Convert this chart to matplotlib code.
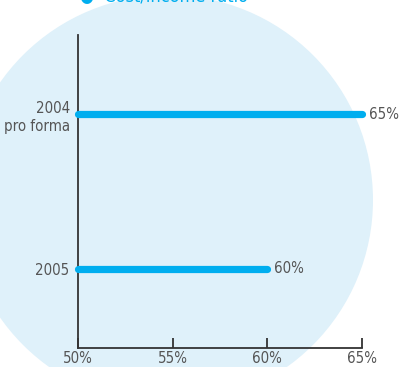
import matplotlib
matplotlib.use("Agg")
import matplotlib.pyplot as plt
from matplotlib.patches import Circle

# Cost/income ratio by year
categories = ["2004\npro forma", "2005"]
values = [65, 60]
value_labels = ["65%", "60%"]
xticks = [50, 55, 60, 65]
xtick_labels = ["50%", "55%", "60%", "65%"]
title = "Cost/income ratio"

BLUE = "#00aeef"
PALE = "#dff1fa"
GREY = "#555555"
AXIS = "#333333"

plt.rcParams["font.family"] = ["DejaVu Sans"]
plt.rcParams["font.stretch"] = "condensed"

W, H = 400, 367
FS = 10.8
fig = plt.figure(figsize=(W / 100, H / 100), dpi=100)

# Pale decorative disc behind the chart (pixel coordinates)
bg = fig.add_axes([0, 0, 1, 1], zorder=0)
bg.set_xlim(0, W)
bg.set_ylim(H, 0)
bg.axis("off")
bg.add_patch(Circle((168, 200), 205, color=PALE, lw=0))

# Title, running off the top edge
fig.text(80 / W, 1 - 1.5 / H, "\u25CF  " + title, color=BLUE, fontsize=13,
         ha="left", va="baseline")

ax = fig.add_axes([78 / W, 1 - 348 / H, (362 - 78) / W, (348 - 35) / H], zorder=1)
ax.set_facecolor("none")

ypos = list(range(len(categories)))
for y, v, lab in zip(ypos, values, value_labels):
    ax.plot([xticks[0], v], [y, y], color=BLUE, lw=5.2, solid_capstyle="round",
            clip_on=False, zorder=3)
    ax.text(v + 0.35, y, lab, color=GREY, fontsize=FS, ha="left", va="center")

ax.set_xlim(50, 65)
ax.set_ylim(len(categories) - 0.49, -0.51)
ax.set_yticks(ypos)
ax.set_yticklabels(categories, color=GREY, fontsize=FS, linespacing=1.3)
ax.tick_params(axis="y", length=0, pad=6)
ax.set_xticks(xticks)
ax.set_xticklabels(xtick_labels, color=GREY, fontsize=FS)
ax.tick_params(axis="x", direction="in", length=7, width=1.3, color=AXIS, pad=2)

for s in ("top", "right"):
    ax.spines[s].set_visible(False)
for s in ("left", "bottom"):
    ax.spines[s].set_color(AXIS)
    ax.spines[s].set_linewidth(1.3)

fig.savefig("out.png", dpi=100)
